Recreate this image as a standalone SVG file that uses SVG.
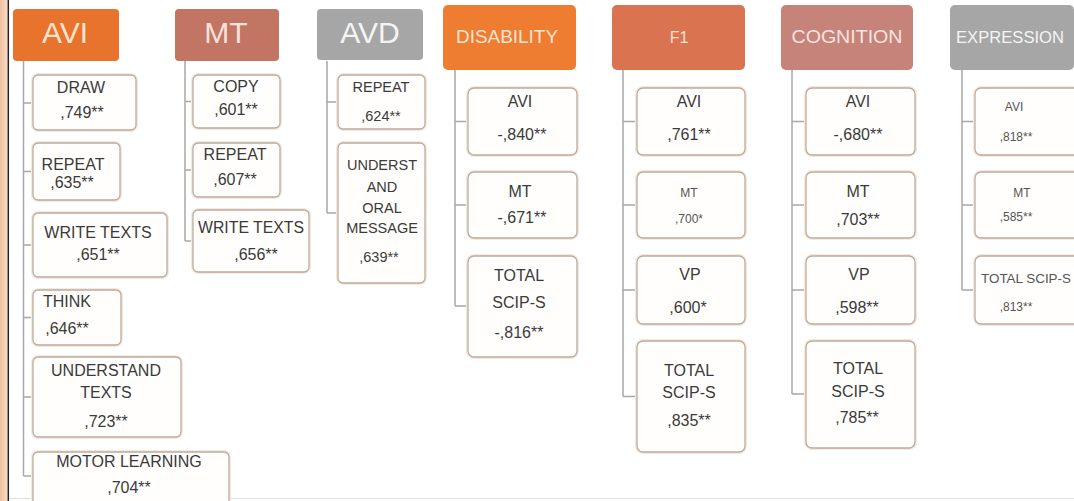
<svg xmlns="http://www.w3.org/2000/svg" width="1074" height="501" viewBox="0 0 1074 501">
<defs>
<linearGradient id="strip" x1="0" y1="0" x2="1" y2="0"><stop offset="0" stop-color="#EFC09C"/><stop offset="1" stop-color="#F8DCC6"/></linearGradient>
</defs>
<style>
.hd{stroke:none}
.ht{font-family:"Liberation Sans",Arial,sans-serif;text-anchor:middle}
.big{font-size:30px}
.mid{font-size:19px}
.bx{fill:#FFFEFC;stroke:#BBAC9F;stroke-width:1.3}
.glow{fill:none;stroke:#F7E9DD;stroke-width:4}
.t{font-family:"Liberation Sans",Arial,sans-serif;font-size:16px;fill:#3A3A3A;text-anchor:middle}
.s{font-size:14.5px}
.xs{font-size:12px;fill:#555}
.cn{fill:none;stroke:#A8A8A8;stroke-width:1.5}
</style>
<rect width="1074" height="501" fill="#FFFFFF"/>
<rect x="0" y="0" width="7.5" height="501" fill="url(#strip)"/>
<line x1="8.3" y1="0" x2="8.3" y2="501" stroke="#222" stroke-width="1.5"/>
<line x1="9" y1="498.5" x2="1074" y2="498.5" stroke="#DDDDDD" stroke-width="1"/>

<g id="connectors">
<path class="cn" d="M23.5 61V476M23.5 103H33M23.5 171.5H33M23.5 245H33M23.5 317.5H33M23.5 397H33M23.5 476H33"/>
<path class="cn" d="M185 61V241M185 101.5H193M185 170H193M185 241H193"/>
<path class="cn" d="M327 61V213M327 102H338M327 213H338"/>
<path class="cn" d="M455 70V306M455 121.5H468M455 205H468M455 306H468"/>
<path class="cn" d="M623 70V396.5M623 121.5H637M623 205H637M623 290H637M623 396.5H637"/>
<path class="cn" d="M792 70V394M792 121.5H806M792 205H806M792 290H806M792 394H806"/>
<path class="cn" d="M962 70V290M962 121.5H975M962 205H975M962 290H975"/>
</g>

<g id="h-avi"><rect class="hd" x="13" y="9" width="106" height="52" rx="4" fill="#E8732C"/><text class="ht big" x="65" y="43" fill="#FBE3D0">AVI</text></g>
<g id="h-mt"><rect class="hd" x="175" y="9" width="104" height="52" rx="4" fill="#C27562"/><text class="ht big" x="226" y="43" fill="#F9E2DA">MT</text></g>
<g id="h-avd"><rect class="hd" x="317" y="9" width="106" height="51" rx="4" fill="#A6A6A6"/><text class="ht big" x="370" y="43" fill="#F4F4F4">AVD</text></g>
<g id="h-disability"><rect class="hd" x="443" y="5" width="133" height="65" rx="5" fill="#EE7D31"/><text class="ht mid" x="507" y="43" fill="#FBE3D0" textLength="102" lengthAdjust="spacingAndGlyphs">DISABILITY</text></g>
<g id="h-f1"><rect class="hd" x="612" y="5" width="133" height="65" rx="5" fill="#DA7350"/><text class="ht" x="679" y="43" font-size="16" fill="#FBE3D0">F1</text></g>
<g id="h-cognition"><rect class="hd" x="781" y="5" width="132" height="65" rx="5" fill="#C6837A"/><text class="ht mid" x="847" y="43" fill="#F9E4E0" textLength="111" lengthAdjust="spacingAndGlyphs">COGNITION</text></g>
<g id="h-expression"><rect class="hd" x="950" y="5" width="124" height="65" rx="5" fill="#A6A6A6"/><text class="ht" x="1010" y="43" font-size="17" fill="#F4F4F4" textLength="108" lengthAdjust="spacingAndGlyphs">EXPRESSION</text></g>

<g id="avi-draw"><rect class="glow" x="33" y="75" width="103" height="55" rx="5"/><rect class="bx" x="33" y="75" width="103" height="55" rx="5"/><text class="t" x="81" y="93">DRAW</text><text class="t" x="82" y="118">,749**</text></g>
<g id="avi-repeat"><rect class="glow" x="33" y="143" width="87" height="57" rx="5"/><rect class="bx" x="33" y="143" width="87" height="57" rx="5"/><text class="t" x="73" y="170">REPEAT</text><text class="t" x="72" y="188">,635**</text></g>
<g id="avi-write"><rect class="glow" x="33" y="213" width="134" height="64" rx="5"/><rect class="bx" x="33" y="213" width="134" height="64" rx="5"/><text class="t" x="98" y="238">WRITE TEXTS</text><text class="t" x="98" y="260">,651**</text></g>
<g id="avi-think"><rect class="glow" x="33" y="290" width="88" height="55" rx="5"/><rect class="bx" x="33" y="290" width="88" height="55" rx="5"/><text class="t" x="67" y="307">THINK</text><text class="t" x="67" y="334">,646**</text></g>
<g id="avi-understand"><rect class="glow" x="33" y="357" width="148" height="80" rx="5"/><rect class="bx" x="33" y="357" width="148" height="80" rx="5"/><text class="t" x="106" y="376">UNDERSTAND</text><text class="t" x="106" y="398">TEXTS</text><text class="t" x="106" y="427">,723**</text></g>
<g id="avi-motor"><rect class="glow" x="33" y="452" width="196" height="56" rx="5"/><rect class="bx" x="33" y="452" width="196" height="56" rx="5"/><text class="t" x="129" y="467">MOTOR LEARNING</text><text class="t" x="129" y="493">,704**</text></g>

<g id="mt-copy"><rect class="glow" x="193" y="75" width="87" height="53" rx="5"/><rect class="bx" x="193" y="75" width="87" height="53" rx="5"/><text class="t" x="236" y="92">COPY</text><text class="t" x="236" y="115">,601**</text></g>
<g id="mt-repeat"><rect class="glow" x="193" y="143" width="87" height="54" rx="5"/><rect class="bx" x="193" y="143" width="87" height="54" rx="5"/><text class="t" x="235" y="160">REPEAT</text><text class="t" x="235" y="185">,607**</text></g>
<g id="mt-write"><rect class="glow" x="193" y="210" width="116" height="62" rx="5"/><rect class="bx" x="193" y="210" width="116" height="62" rx="5"/><text class="t" x="251" y="233" textLength="106" lengthAdjust="spacingAndGlyphs">WRITE TEXTS</text><text class="t" x="256" y="260">,656**</text></g>

<g id="avd-repeat"><rect class="glow" x="338" y="75" width="87" height="54" rx="5"/><rect class="bx" x="338" y="75" width="87" height="54" rx="5"/><text class="t s" x="381" y="92">REPEAT</text><text class="t s" x="381" y="121">,624**</text></g>
<g id="avd-underst"><rect class="glow" x="338" y="143" width="87" height="140" rx="5"/><rect class="bx" x="338" y="143" width="87" height="140" rx="5"/><text class="t s" x="382" y="170">UNDERST</text><text class="t s" x="382" y="192">AND</text><text class="t s" x="382" y="213">ORAL</text><text class="t s" x="382" y="233">MESSAGE</text><text class="t s" x="379" y="262">,639**</text></g>

<g id="dis-avi"><rect class="glow" x="468" y="88" width="109" height="67" rx="6"/><rect class="bx" x="468" y="88" width="109" height="67" rx="6"/><text class="t" x="520" y="107">AVI</text><text class="t" x="522" y="140">-,840**</text></g>
<g id="dis-mt"><rect class="glow" x="468" y="172" width="109" height="66" rx="6"/><rect class="bx" x="468" y="172" width="109" height="66" rx="6"/><text class="t" x="520" y="197">MT</text><text class="t" x="522" y="223">-,671**</text></g>
<g id="dis-total"><rect class="glow" x="468" y="256" width="109" height="101" rx="6"/><rect class="bx" x="468" y="256" width="109" height="101" rx="6"/><text class="t" x="519" y="281">TOTAL</text><text class="t" x="519" y="308">SCIP-S</text><text class="t" x="519" y="338">-,816**</text></g>

<g id="f1-avi"><rect class="glow" x="637" y="88" width="108" height="67" rx="6"/><rect class="bx" x="637" y="88" width="108" height="67" rx="6"/><text class="t" x="689" y="107">AVI</text><text class="t" x="689" y="140">,761**</text></g>
<g id="f1-mt"><rect class="glow" x="637" y="172" width="108" height="66" rx="6"/><rect class="bx" x="637" y="172" width="108" height="66" rx="6"/><text class="t xs" x="689" y="197">MT</text><text class="t xs" x="689" y="223">,700*</text></g>
<g id="f1-vp"><rect class="glow" x="637" y="256" width="108" height="68" rx="6"/><rect class="bx" x="637" y="256" width="108" height="68" rx="6"/><text class="t" x="690" y="280">VP</text><text class="t" x="688" y="313">,600*</text></g>
<g id="f1-total"><rect class="glow" x="637" y="341" width="108" height="111" rx="6"/><rect class="bx" x="637" y="341" width="108" height="111" rx="6"/><text class="t" x="689" y="376">TOTAL</text><text class="t" x="689" y="398">SCIP-S</text><text class="t" x="689" y="426">,835**</text></g>

<g id="cog-avi"><rect class="glow" x="806" y="88" width="109" height="67" rx="6"/><rect class="bx" x="806" y="88" width="109" height="67" rx="6"/><text class="t" x="858" y="107">AVI</text><text class="t" x="858" y="140">-,680**</text></g>
<g id="cog-mt"><rect class="glow" x="806" y="172" width="109" height="66" rx="6"/><rect class="bx" x="806" y="172" width="109" height="66" rx="6"/><text class="t" x="858" y="197">MT</text><text class="t" x="858" y="225">,703**</text></g>
<g id="cog-vp"><rect class="glow" x="806" y="256" width="109" height="68" rx="6"/><rect class="bx" x="806" y="256" width="109" height="68" rx="6"/><text class="t" x="859" y="280">VP</text><text class="t" x="857" y="313">,598**</text></g>
<g id="cog-total"><rect class="glow" x="806" y="341" width="109" height="107" rx="6"/><rect class="bx" x="806" y="341" width="109" height="107" rx="6"/><text class="t" x="858" y="374">TOTAL</text><text class="t" x="858" y="397">SCIP-S</text><text class="t" x="857" y="423">,785**</text></g>

<g id="exp-avi"><rect class="glow" x="975" y="88" width="110" height="67" rx="6"/><rect class="bx" x="975" y="88" width="110" height="67" rx="6"/><text class="t xs" x="1014" y="111">AVI</text><text class="t xs" x="1016" y="141">,818**</text></g>
<g id="exp-mt"><rect class="glow" x="975" y="172" width="110" height="66" rx="6"/><rect class="bx" x="975" y="172" width="110" height="66" rx="6"/><text class="t xs" x="1022" y="197">MT</text><text class="t xs" x="1016" y="221">,585**</text></g>
<g id="exp-total"><rect class="glow" x="975" y="256" width="110" height="68" rx="6"/><rect class="bx" x="975" y="256" width="110" height="68" rx="6"/><text class="t xs" x="1026" y="283" textLength="90" lengthAdjust="spacingAndGlyphs">TOTAL SCIP-S</text><text class="t xs" x="1016" y="311">,813**</text></g>
</svg>
